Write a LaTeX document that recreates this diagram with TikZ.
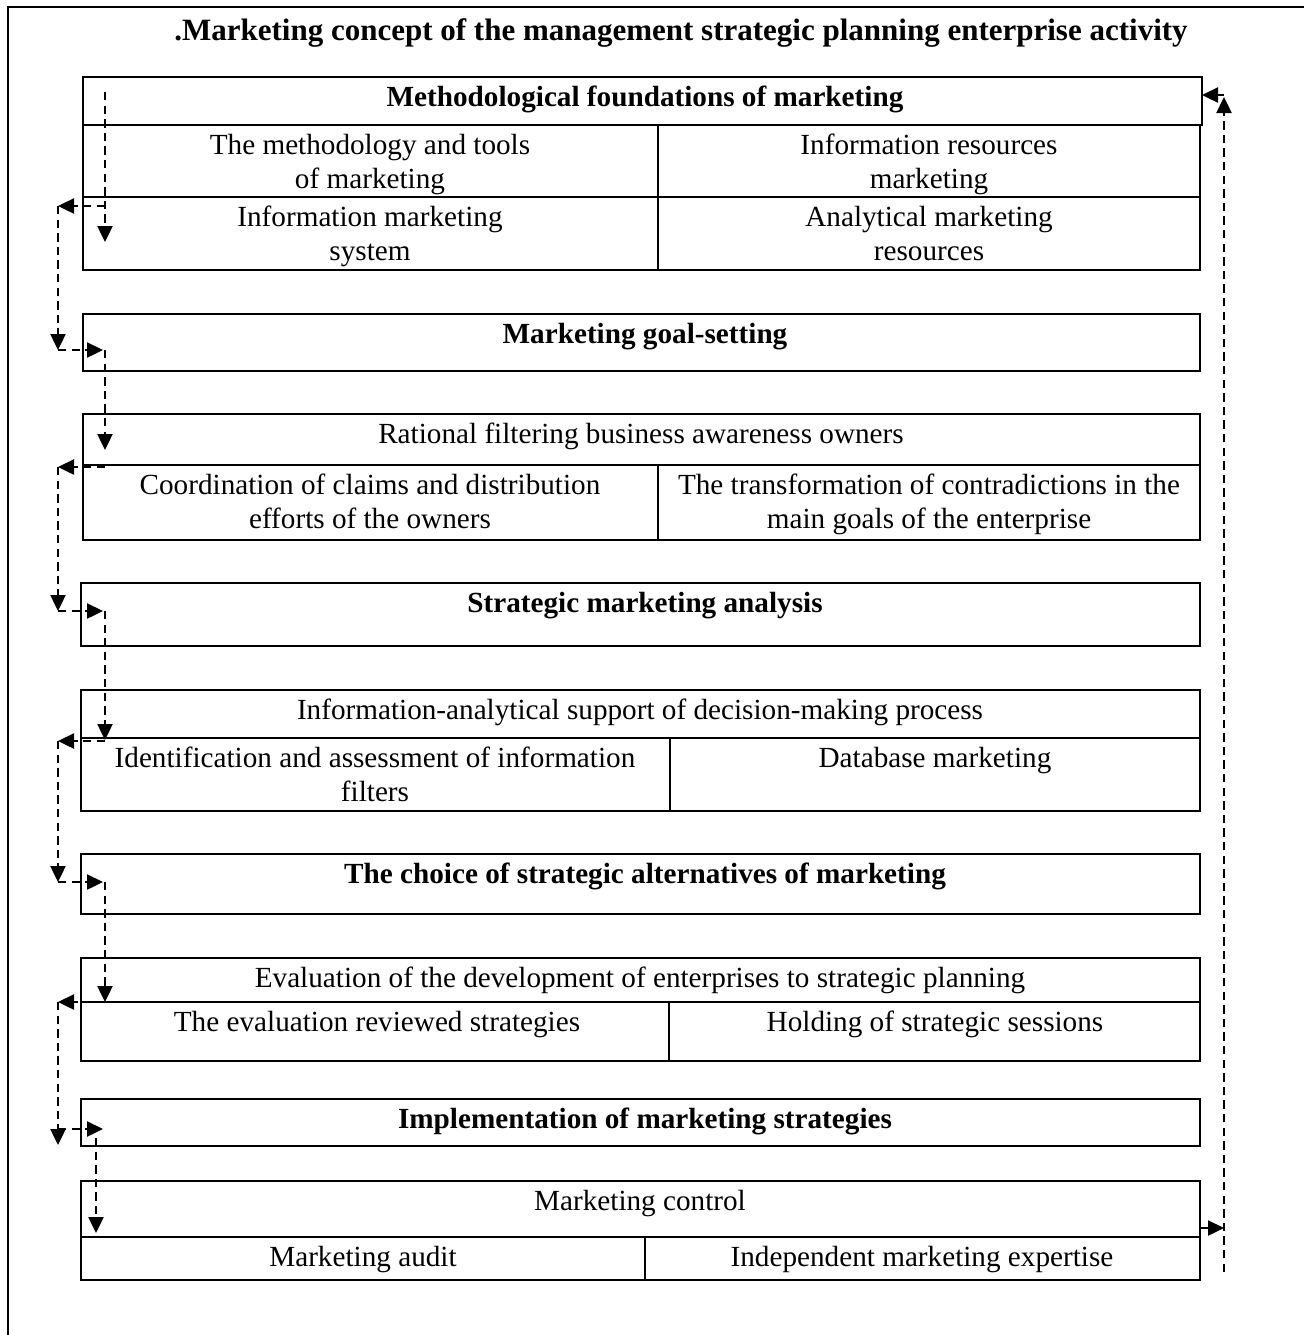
\documentclass[tikz,border=0pt]{standalone}
\usepackage{fontspec}
\setmainfont{Liberation Serif}
\usetikzlibrary{arrows.meta}
\begin{document}
\begin{tikzpicture}[x=0.5pt,y=-0.5pt,
  box/.style={draw, line width=0.7pt},
  txt/.style={anchor=north, inner sep=0pt, align=center, font=\fontsize{14.6}{17}\selectfont},
  btxt/.style={txt, font=\fontsize{14.6}{17}\selectfont\bfseries},
  flow/.style={line width=1.2pt, dash pattern=on 4.2pt off 2.6pt, -{Triangle[length=8pt,width=7.5pt]}},
  solidflow/.style={line width=1.2pt, -{Triangle[length=8pt,width=7.5pt]}},
]
\useasboundingbox (0,0) rectangle (1304,1335);
% outer frame
\draw[line width=0.8pt] (8,1335) -- (8,7) -- (1304,7);
\node[anchor=base, inner sep=0pt, font=\fontsize{15.5}{18}\selectfont\bfseries] (title) at (681,40) {.Marketing concept of the management strategic planning enterprise activity};

% block 1
\draw[box] (83,77) rectangle (1202,125);
\draw[box] (83,125) rectangle (1200,270);
\draw[box] (83,197) -- (1200,197);
\draw[box] (658,125) -- (658,270);
\node[btxt] (h1) at (645,82) {\strut Methodological foundations of marketing};
\node[txt] (c11) at (370,130) {\strut The methodology and tools\\of marketing};
\node[txt] (c12) at (929,130) {\strut Information resources\\marketing};
\node[txt] (c13) at (370,202) {\strut Information marketing\\system};
\node[txt] (c14) at (929,202) {\strut Analytical marketing\\resources};

% block 2
\draw[box] (83,314) rectangle (1200,371);
\node[btxt] (h2) at (645,319) {\strut Marketing goal-setting};

% block 3
\draw[box] (83,414) rectangle (1200,540);
\draw[box] (83,465) -- (1200,465);
\draw[box] (658,465) -- (658,540);
\node[txt] (c21) at (641,419) {\strut Rational filtering business awareness owners};
\node[txt] (c22) at (370,470) {\strut Coordination of claims and distribution\\efforts of the owners};
\node[txt] (c23) at (929,470) {\strut The transformation of contradictions in the\\main goals of the enterprise};

% block 4
\draw[box] (81,583) rectangle (1200,646);
\node[btxt] (h3) at (645,588) {\strut Strategic marketing analysis};

% block 5
\draw[box] (81,690) rectangle (1200,811);
\draw[box] (81,738) -- (1200,738);
\draw[box] (670,738) -- (670,811);
\node[txt] (c31) at (640,695) {\strut Information-analytical support of decision-making process};
\node[txt] (c32) at (375,743) {\strut Identification and assessment of information\\filters};
\node[txt] (c33) at (935,743) {\strut Database marketing};

% block 6
\draw[box] (81,854) rectangle (1200,914);
\node[btxt] (h4) at (645,859) {\strut The choice of strategic alternatives of marketing};

% block 7
\draw[box] (81,958) rectangle (1200,1061);
\draw[box] (81,1002) -- (1200,1002);
\draw[box] (669,1002) -- (669,1061);
\node[txt] (c41) at (640,963) {\strut Evaluation of the development of enterprises to strategic planning};
\node[txt] (c42) at (377,1007) {\strut The evaluation reviewed strategies};
\node[txt] (c43) at (935,1007) {\strut Holding of strategic sessions};

% block 8
\draw[box] (81,1099) rectangle (1200,1146);
\node[btxt] (h5) at (645,1104) {\strut Implementation of marketing strategies};

% block 9
\draw[box] (81,1181) rectangle (1200,1280);
\draw[box] (81,1237) -- (1200,1237);
\draw[box] (645,1237) -- (645,1280);
\node[txt] (c51) at (640,1186) {\strut Marketing control};
\node[txt] (c52) at (363,1242) {\strut Marketing audit};
\node[txt] (c53) at (922,1242) {\strut Independent marketing expertise};

% left flow coordinates
\coordinate (s0) at (105,92);
\coordinate (d1) at (105,242);
\coordinate (b1) at (105,206);  \coordinate (l1) at (58,206);
\coordinate (m1) at (58,350);   \coordinate (r1) at (103,350);
\coordinate (v1) at (105,350);  \coordinate (d2) at (105,450);
\coordinate (b2) at (105,467);  \coordinate (l2) at (58,467);
\coordinate (m2) at (58,611);   \coordinate (r2) at (103,611);
\coordinate (v2) at (105,611);  \coordinate (d3) at (105,740);
\coordinate (b3) at (105,741);  \coordinate (l3) at (58,741);
\coordinate (m3) at (58,882);   \coordinate (r3) at (103,882);
\coordinate (v3) at (105,882);  \coordinate (d4) at (105,1002);
\coordinate (b4) at (105,1002); \coordinate (l4) at (58,1002);
\coordinate (m4) at (58,1145);
\coordinate (n4) at (58,1129);  \coordinate (r4) at (103,1129);
\coordinate (v4) at (96,1138);  \coordinate (d5) at (96,1233);

\draw[flow] (s0) -- (d1);
\draw[flow] (b1) -- (l1);
\draw[flow] (l1) -- (m1);
\draw[flow] (m1) -- (r1);
\draw[flow] (v1) -- (d2);
\draw[flow] (b2) -- (l2);
\draw[flow] (l2) -- (m2);
\draw[flow] (m2) -- (r2);
\draw[flow] (v2) -- (d3);
\draw[flow] (b3) -- (l3);
\draw[flow] (l3) -- (m3);
\draw[flow] (m3) -- (r3);
\draw[flow] (v3) -- (d4);
\draw[flow] (b4) -- (l4);
\draw[flow] (l4) -- (m4);
\draw[flow] (n4) -- (r4);
\draw[flow] (v4) -- (d5);

% right feedback
\coordinate (e0) at (1200,1228); \coordinate (e1) at (1224,1228);
\coordinate (u0) at (1224,1272); \coordinate (u1) at (1224,97);
\coordinate (t0) at (1224,95);   \coordinate (t1) at (1202,95);
\draw[solidflow] (e0) -- (e1);
\draw[flow] (u0) -- (u1);
\draw[flow] (t0) -- (t1);
\end{tikzpicture}
\end{document}
